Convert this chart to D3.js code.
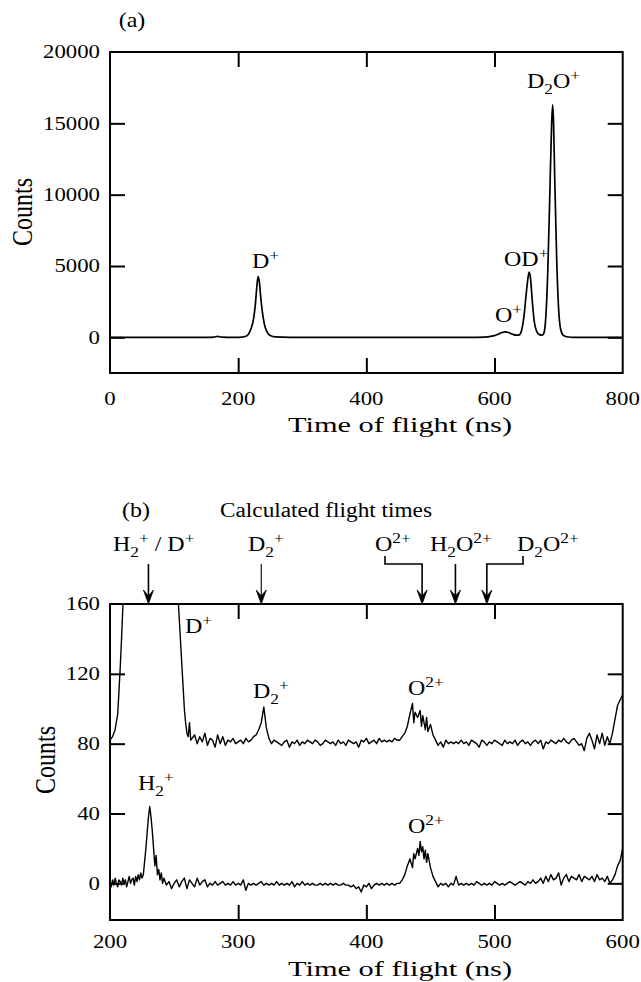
<!DOCTYPE html>
<html>
<head>
<meta charset="utf-8">
<script src="https://cdn.jsdelivr.net/npm/d3@7"></script>
<style>
  body { margin: 0; background: #fff; }
  svg { display: block; }
  text { font-family: "Liberation Serif", "Times New Roman", serif; fill: #000; }
</style>
</head>
<body>
<svg id="chart" width="641" height="982"></svg>
<script>
// ---- data ----

// panel (a): full spectrum, [time ns, counts]
const spectrumA = [
  [0,0],[100,0],[150,0],[162,20],[168,70],[174,15],[195,0],[206,20],[212,80],[216,220],
  [220,600],[224,1300],[227,2400],[229,3500],[231,4250],[233,3900],[235,2900],[238,1700],
  [241,900],[245,380],[250,130],[258,30],[280,0],[560,0],[585,20],[598,100],[606,230],
  [612,340],[617,380],[622,340],[628,220],[634,150],[638,160],[642,450],[646,1500],
  [650,3300],[653,4400],[654,4580],[656,4200],[659,2500],[662,1100],[666,400],[670,190],
  [674,150],[677,300],[680,1400],[683,4500],[686,9500],[689,14800],[690.7,16300],
  [692,15200],[694,11000],[697,5500],[700,2000],[703,600],[707,160],[713,40],[725,0],[800,0]
];
const ticksAx = [200, 400, 600];
const ticksAy = [0, 5000, 10000, 15000];
const labelsAx = [0, 200, 400, 600, 800];
const labelsAy = [0, 5000, 10000, 15000, 20000];

// panel (b): upper trace (offset), [time ns, counts]
const traceUpper = [
  [200,82],[202,84],[204,88],[206,97],[207,110],[208,124],[209,140],[210,158],[212,205],[216,320],
  [220,600],[226,1500],[232,2500],[240,1500],[246,600],[250,260],[252,178],[254,152],[256,126],
  [258,100],[259,92],[260,86],[261,84],[262,92],[263,82],[264,83],[266,85],[268,80],[270,84],
  [272,81],[274,86],[276,79],[278,83],[280,82],[282,78],[284,85],[286,80],[288,84],[290,79],
  [292,82],[294,81],[296,83],[298,80],[300,81],[302,82],[304,80],[306,83],[308,81],[310,82],
  [312,84],[314,85],[316,88],[318,92],[320,101],[322,89],[324,83],[326,80],[328,82],[330,81],
  [332,80],[334,79],[336,81],[338,82],[340,78],[342,81],[344,80],[346,82],[348,79],[350,81],
  [352,80],[354,82],[356,81],[358,80],[360,82],[362,81],[364,79],[366,80],[368,82],[370,81],
  [372,80],[374,81],[376,79],[378,82],[380,80],[382,81],[384,79],[386,82],[388,81],[390,80],
  [392,81],[394,78],[396,82],[398,81],[400,83],[402,80],[404,81],[406,82],[408,80],[410,83],
  [412,81],[414,82],[416,81],[418,82],[420,81],[422,83],[424,82],[426,82],[428,84],[430,86],
  [432,90],[434,97],[436,103],[437,92],[438,98],[440,95],[442,99],[443,90],[444,96],[446,88],
  [447,95],[448,87],[450,91],[452,85],[454,82],[456,79],[458,81],[460,78],[462,82],[464,80],
  [466,81],[468,80],[470,81],[472,80],[474,82],[476,80],[478,81],[480,79],[482,82],[484,81],
  [486,80],[488,78],[490,82],[492,81],[494,79],[496,81],[498,80],[500,82],[502,81],[504,80],
  [506,79],[508,82],[510,80],[512,81],[514,80],[516,82],[518,79],[520,81],[522,82],[524,80],
  [526,81],[528,79],[530,81],[532,82],[534,80],[536,82],[538,77],[540,81],[542,80],[544,82],
  [546,81],[548,80],[550,82],[552,81],[554,83],[556,81],[558,80],[560,82],[562,83],[564,81],
  [566,79],[568,80],[570,76],[572,83],[574,86],[576,82],[578,77],[580,85],[582,80],[584,86],
  [586,79],[588,84],[590,80],[592,86],[594,94],[596,102],[598,105],[600,108]
];

// panel (b): lower trace, [time ns, counts]
const traceLower = [
  [200,1],[201,-2],[202,2],[203,-1],[204,3],[205,0],[206,-2],[207,2],[208,1],[209,-1],
  [210,3],[211,0],[212,2],[213,-2],[214,1],[215,4],[216,0],[217,2],[218,3],[219,-1],
  [220,4],[221,1],[222,5],[223,2],[224,6],[225,3],[226,5],[228,20],[230,38],[231,44],
  [232,38],[233,30],[234,20],[235,10],[236,16],[237,5],[238,8],[239,2],[240,6],[241,0],
  [242,3],[244,-1],[246,1],[248,-3],[250,0],[252,2],[254,-2],[256,1],[258,3],[260,-3],
  [262,2],[264,0],[266,-2],[268,3],[270,-1],[272,1],[274,2],[276,-2],[278,0],[280,-1],
  [282,1],[284,-1],[286,0],[288,1],[290,-1],[292,0],[294,-1],[296,1],[298,-1],[300,0],
  [302,-1],[304,2],[306,-4],[308,0],[310,-1],[312,0],[314,-1],[316,0],[318,1],[320,-1],
  [322,0],[324,-1],[326,0],[328,-1],[330,1],[332,-1],[334,0],[336,-1],[338,0],[340,-1],
  [342,1],[344,-2],[346,0],[348,-1],[350,1],[352,-1],[354,0],[356,-1],[358,0],[360,-1],
  [362,-1],[364,0],[366,-1],[368,0],[370,-1],[372,0],[374,-1],[376,0],[378,-1],[380,-1],
  [382,0],[384,-1],[386,-1],[388,-2],[390,-1],[392,-3],[394,-2],[396,-5],[398,-1],[400,-2],
  [402,0],[404,-3],[406,-1],[408,0],[410,-1],[412,0],[414,-1],[416,0],[418,-1],[420,0],
  [422,-1],[424,0],[426,0],[428,2],[430,5],[432,10],[434,14],[436,9],[437,17],[438,14],
  [440,20],[441,16],[442,24],[443,18],[444,21],[445,14],[446,19],[447,12],[448,17],[450,9],
  [452,4],[454,1],[456,-2],[458,0],[460,-1],[462,0],[464,-2],[466,0],[468,-1],[470,4],
  [472,-1],[474,0],[476,-1],[478,0],[480,-1],[482,0],[484,-1],[486,1],[488,0],[490,-1],
  [492,0],[494,-1],[496,0],[498,-1],[500,1],[502,0],[504,-1],[506,0],[508,-1],[510,0],
  [512,1],[514,0],[516,-1],[518,0],[520,1],[522,0],[524,-1],[526,1],[528,0],[530,2],
  [532,0],[534,1],[536,3],[538,0],[540,4],[542,1],[544,5],[546,2],[548,3],[550,6],
  [552,-1],[554,3],[556,5],[558,1],[560,4],[562,3],[564,2],[566,5],[568,1],[570,4],
  [572,3],[574,2],[576,4],[578,1],[580,5],[582,2],[584,3],[586,1],[588,4],[590,0],
  [592,2],[594,5],[596,10],[598,13],[600,20]
];
const ticksBx = [300, 400, 500];
const ticksBy = [0, 40, 80, 120];
const labelsBx = [200, 300, 400, 500, 600];
const labelsBy = [0, 40, 80, 120, 160];

// calculated flight times (arrows on top of panel b)
const calcTimes = [230, 318, 443.5, 469.5, 494];

// ---- helpers ----
const svg = d3.select('#chart');
const SX = 1.2; // the scanned lettering is a bit wide

// parts: [[string, 'n'|'sub'|'sup'], ...]
function rich(x, y, parts, size, anchor) {
  const t = svg.append('text')
    .attr('transform', `translate(${x},${y}) scale(${SX},1)`)
    .attr('font-size', size)
    .attr('text-anchor', anchor || 'start');
  let shift = 0;
  parts.forEach(([s, kind]) => {
    const target = kind === 'sub' ? size * 0.28 : kind === 'sup' ? -size * 0.4 : 0;
    t.append('tspan')
      .attr('dy', target - shift)
      .attr('font-size', kind === 'n' ? size : size * 0.72)
      .text(s);
    shift = target;
  });
  return t;
}

function frame(x, y, tickX, tickY) {
  const [x0, x1] = x.range();
  const [y0, y1] = y.range();
  const g = svg.append('g');
  g.append('rect')
    .attr('x', x0).attr('y', y1)
    .attr('width', x1 - x0).attr('height', y0 - y1)
    .attr('fill', 'none').attr('stroke', '#000').attr('stroke-width', 2);
  const axes = [
    [d3.axisBottom(x), `translate(0,${y0})`, tickX],
    [d3.axisTop(x), `translate(0,${y1})`, tickX],
    [d3.axisLeft(y), `translate(${x0},0)`, tickY],
    [d3.axisRight(y), `translate(${x1},0)`, tickY]
  ];
  axes.forEach(([ax, tr, vals]) => {
    const a = g.append('g').attr('transform', tr)
      .call(ax.tickValues(vals).tickSize(-15).tickFormat(''));
    a.select('.domain').remove();
    a.selectAll('line').attr('stroke', '#000').attr('stroke-width', 2);
  });
}

function tickLabels(x, y, xs, ys, padX) {
  const yb = y.range()[0];
  xs.forEach(v => {
    svg.append('text')
      .attr('transform', `translate(${x(v)},${yb + padX}) scale(${SX},1)`)
      .attr('font-size', 19).attr('text-anchor', 'middle')
      .attr('dy', '0.71em')
      .text(v);
  });
  ys.forEach(v => {
    svg.append('text')
      .attr('transform', `translate(${x.range()[0] - 10},${y(v)}) scale(${SX},1)`)
      .attr('font-size', 19).attr('text-anchor', 'end')
      .attr('dy', '0.34em')
      .text(v);
  });
}

function axisTitles(cxX, baseX, cxY, cyY) {
  svg.append('text')
    .attr('x', cxX).attr('y', baseX)
    .attr('font-size', 22).attr('text-anchor', 'middle')
    .attr('textLength', 224).attr('lengthAdjust', 'spacingAndGlyphs')
    .text('Time of flight (ns)');
  svg.append('text')
    .attr('transform', `translate(${cxY},${cyY}) scale(${SX},1) rotate(-90)`)
    .attr('font-size', 24).attr('text-anchor', 'middle')
    .attr('dy', '0.35em')
    .text('Counts');
}

// ---- panel (a) ----
const xA = d3.scaleLinear().domain([0, 800]).range([110, 622.7]);
const yA = d3.scaleLinear().domain([-2500, 20000]).range([373, 52]);

const lineA = d3.line()
  .x(d => xA(d[0])).y(d => yA(d[1]))
  .curve(d3.curveMonotoneX);

svg.append('path')
  .datum(spectrumA)
  .attr('d', lineA)
  .attr('fill', 'none').attr('stroke', '#000').attr('stroke-width', 1.7);

frame(xA, yA, ticksAx, ticksAy);
tickLabels(xA, yA, labelsAx, labelsAy, 19);
axisTitles(400, 432, 22, 212);

rich(132, 27, [['(a)', 'n']], 20, 'middle');
rich(252, 268, [['D', 'n'], ['+', 'sup']], 20);
rich(495, 322, [['O', 'n'], ['+', 'sup']], 20);
rich(504, 266, [['OD', 'n'], ['+', 'sup']], 20);
rich(527, 88, [['D', 'n'], ['2', 'sub'], ['O', 'n'], ['+', 'sup']], 20);

// ---- panel (b) ----
const xB = d3.scaleLinear().domain([200, 600]).range([110, 622.7]);
const yB = d3.scaleLinear().domain([-21, 160]).range([920, 604]);

svg.append('clipPath').attr('id', 'clipB')
  .append('rect')
  .attr('x', xB.range()[0]).attr('y', yB.range()[1])
  .attr('width', xB.range()[1] - xB.range()[0])
  .attr('height', yB.range()[0] - yB.range()[1]);

const lineB = d3.line().x(d => xB(d[0])).y(d => yB(d[1]));

svg.append('g').attr('clip-path', 'url(#clipB)')
  .selectAll('path')
  .data([traceUpper, traceLower])
  .join('path')
  .attr('d', lineB)
  .attr('fill', 'none').attr('stroke', '#000').attr('stroke-width', 1.4)
  .attr('stroke-linejoin', 'round');

frame(xB, yB, ticksBx, ticksBy);
tickLabels(xB, yB, labelsBx, labelsBy, 15);
axisTitles(400, 976, 45, 760);

rich(122, 517, [['(b)', 'n']], 20);
svg.append('text')
  .attr('x', 326).attr('y', 517)
  .attr('font-size', 20).attr('text-anchor', 'middle')
  .attr('textLength', 212).attr('lengthAdjust', 'spacingAndGlyphs')
  .text('Calculated flight times');

// labels for the calculated times
const rowY = 551;
rich(113, rowY, [['H', 'n'], ['2', 'sub'], ['+', 'sup'], [' / D', 'n'], ['+', 'sup']], 20);
rich(248, rowY, [['D', 'n'], ['2', 'sub'], ['+', 'sup']], 20);
rich(375, rowY, [['O', 'n'], ['2+', 'sup']], 20);
rich(430, rowY, [['H', 'n'], ['2', 'sub'], ['O', 'n'], ['2+', 'sup']], 20);
rich(517, rowY, [['D', 'n'], ['2', 'sub'], ['O', 'n'], ['2+', 'sup']], 20);

// arrows; two of them are fed by a bracket from a label set aside
const yTop = yB.range()[1];
const arrowStart = 564;
const bracketFrom = [null, null, 385, null, 523];
const arrows = svg.append('g');
calcTimes.forEach((t, i) => {
  const ax = xB(t);
  const bx = bracketFrom[i];
  const d = bx === null
    ? `M${ax},${arrowStart}V${yTop - 6}`
    : `M${bx},${arrowStart - 8}V${arrowStart}H${ax}V${yTop - 6}`;
  arrows.append('path').attr('d', d)
    .attr('fill', 'none').attr('stroke', '#000')
    .attr('stroke-width', i === 1 ? 1.1 : 1.6);
  arrows.append('path')
    .attr('d', `M${ax - 5},${yTop - 14}L${ax},${yTop}L${ax + 5},${yTop - 14}L${ax},${yTop - 8}Z`)
    .attr('fill', '#000').attr('stroke', '#000').attr('stroke-width', 0.8)
    .attr('stroke-linejoin', 'miter');
});

// peak labels inside panel (b)
rich(185, 633, [['D', 'n'], ['+', 'sup']], 20);
rich(253, 698, [['D', 'n'], ['2', 'sub'], ['+', 'sup']], 20);
rich(408, 695, [['O', 'n'], ['2+', 'sup']], 20);
rich(138, 790, [['H', 'n'], ['2', 'sub'], ['+', 'sup']], 20);
rich(408, 833, [['O', 'n'], ['2+', 'sup']], 20);
</script>
</body>
</html>
